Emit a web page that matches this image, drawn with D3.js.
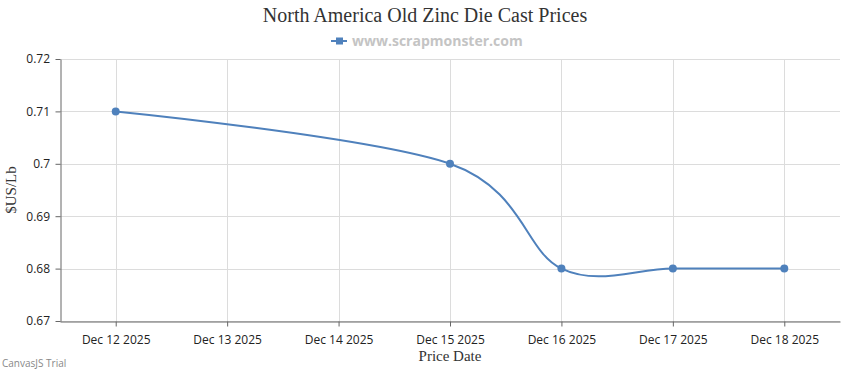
<!DOCTYPE html>
<html>
<head>
<meta charset="utf-8">
<script src="https://cdn.jsdelivr.net/npm/d3@7"></script>
<style>
    body { margin: 0; background: #fff; }
    svg { display: block; }
</style>
</head>
<body>
<div id="chart"></div>
<script>
    var dates = ["2025-12-12", "2025-12-15", "2025-12-16", "2025-12-17", "2025-12-18"];
    var prices = [0.71, 0.70, 0.68, 0.68, 0.68];
    var yTicks = [0.67, 0.68, 0.69, 0.7, 0.71, 0.72];
    var xTickDates = ["2025-12-12", "2025-12-13", "2025-12-14", "2025-12-15", "2025-12-16", "2025-12-17", "2025-12-18"];

    var width = 850, height = 370;
    var margin = { top: 59, right: 10, bottom: 49, left: 60 };
    var lineColor = "#4f81bc";

    var parse = d3.utcParse("%Y-%m-%d");
    var fmt = d3.utcFormat("%b %-d %Y");

    var data = dates.map(function(d, i) { return { date: parse(d), value: prices[i] }; });

    var svg = d3.select("#chart")
        .append("svg")
        .attr("width", width)
        .attr("height", height);

    //half a day of padding on each side
    var x = d3.scaleUtc()
        .domain([d3.utcHour.offset(parse(xTickDates[0]), -12),
                 d3.utcHour.offset(parse(xTickDates[xTickDates.length - 1]), 12)])
        .range([margin.left, width - margin.right]);

    var y = d3.scaleLinear()
        .domain([0.67, 0.72])
        .range([height - margin.bottom, margin.top]);

    //gridlines
    svg.append("g")
        .selectAll("line.hgrid")
        .data(yTicks)
        .enter()
        .append("line")
        .attr("x1", margin.left)
        .attr("x2", width - margin.right)
        .attr("y1", function(d) { return Math.round(y(d)) + 0.5; })
        .attr("y2", function(d) { return Math.round(y(d)) + 0.5; })
        .attr("stroke", "#dcdcdc")
        .attr("stroke-width", 1);

    svg.append("g")
        .selectAll("line.vgrid")
        .data(xTickDates)
        .enter()
        .append("line")
        .attr("x1", function(d) { return Math.round(x(parse(d))) + 0.5; })
        .attr("x2", function(d) { return Math.round(x(parse(d))) + 0.5; })
        .attr("y1", margin.top)
        .attr("y2", height - margin.bottom)
        .attr("stroke", "#dcdcdc")
        .attr("stroke-width", 1);

    //axes
    var xAxis = svg.append("g")
        .attr("transform", "translate(0," + (Math.round(y(0.67)) + 0.5) + ")")
        .call(d3.axisBottom(x)
            .tickValues(xTickDates.map(parse))
            .tickFormat(fmt)
            .tickSize(5)
            .tickSizeOuter(0));

    var yAxis = svg.append("g")
        .attr("transform", "translate(" + (margin.left + 0.5) + ",0)")
        .call(d3.axisLeft(y)
            .tickValues(yTicks)
            .tickFormat(function(d) { return d3.format("")(+d.toFixed(2)); })
            .tickSize(5)
            .tickSizeOuter(0));

    [xAxis, yAxis].forEach(function(a) {
        a.select(".domain").attr("stroke", "#666");
        a.selectAll(".tick line").attr("stroke", "#666");
        a.selectAll(".tick text")
            .attr("fill", "#222")
            .style("font-family", "'Open Sans', 'DejaVu Sans', sans-serif")
            .style("font-size", "12px");
    });
    xAxis.selectAll(".tick text").attr("dy", "1.2em");
    yAxis.selectAll(".tick text").attr("dx", "-0.2em");

    //line
    var line = d3.line()
        .x(function(d) { return x(d.date); })
        .y(function(d) { return y(d.value); })
        .curve(d3.curveCardinal.tension(0));

    svg.append("path")
        .datum(data)
        .attr("d", line)
        .attr("fill", "none")
        .attr("stroke", lineColor)
        .attr("stroke-width", 2);

    svg.append("g")
        .selectAll("circle")
        .data(data)
        .enter()
        .append("circle")
        .attr("cx", function(d) { return x(d.date); })
        .attr("cy", function(d) { return y(d.value); })
        .attr("r", 4)
        .attr("fill", lineColor);

    //titles
    svg.append("text")
        .text("North America Old Zinc Die Cast Prices")
        .attr("x", width / 2)
        .attr("y", 22)
        .attr("text-anchor", "middle")
        .attr("fill", "#333")
        .style("font-family", "'Liberation Serif', 'Times New Roman', serif")
        .style("font-size", "20px");

    svg.append("text")
        .text("Price Date")
        .attr("x", (margin.left + width - margin.right) / 2)
        .attr("y", 361)
        .attr("text-anchor", "middle")
        .attr("fill", "#333")
        .style("font-family", "'Liberation Serif', 'Times New Roman', serif")
        .style("font-size", "15px");

    svg.append("text")
        .text("$US/Lb")
        .attr("transform", "translate(16," + ((margin.top + height - margin.bottom) / 2) + ") rotate(-90)")
        .attr("text-anchor", "middle")
        .attr("fill", "#333")
        .style("font-family", "'Liberation Serif', 'Times New Roman', serif")
        .style("font-size", "15px");

    //legend
    var legend = svg.append("g").attr("transform", "translate(331,41)");
    legend.append("line")
        .attr("x1", 0).attr("x2", 16)
        .attr("y1", 0).attr("y2", 0)
        .attr("stroke", lineColor)
        .attr("stroke-width", 2);
    legend.append("rect")
        .attr("x", 5).attr("y", -3.5)
        .attr("width", 7).attr("height", 7)
        .attr("fill", lineColor);
    legend.append("text")
        .text("www.scrapmonster.com")
        .attr("x", 21)
        .attr("y", 5)
        .attr("fill", "#c4c4c4")
        .style("font-family", "'Open Sans', 'DejaVu Sans', sans-serif")
        .style("font-weight", "bold")
        .style("font-size", "14px");

    //watermark
    svg.append("text")
        .text("CanvasJS Trial")
        .attr("x", 2)
        .attr("y", 367)
        .attr("fill", "#888")
        .style("font-family", "'Open Sans', 'DejaVu Sans', sans-serif")
        .style("font-size", "10px");
</script>
</body>
</html>
